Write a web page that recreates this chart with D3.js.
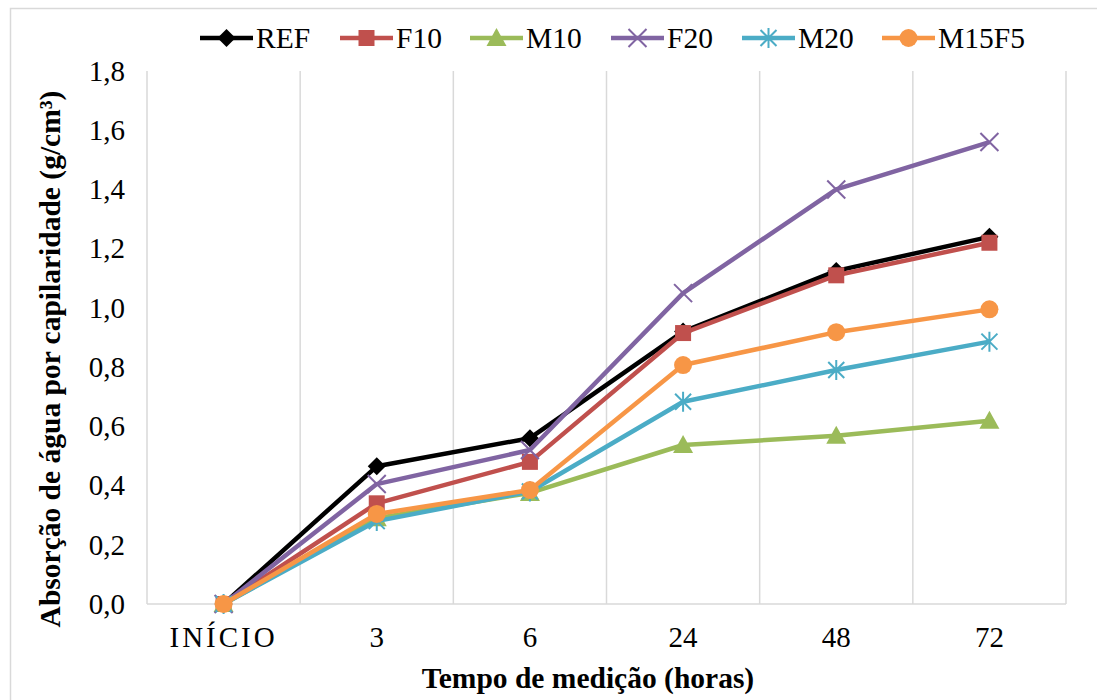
<!DOCTYPE html>
<html>
<head>
<meta charset="utf-8">
<script src="https://cdn.jsdelivr.net/npm/d3@7"></script>
<style>
  html, body { margin: 0; padding: 0; background: #fff; }
  svg { display: block; }
  text { font-family: "Liberation Serif", "Times New Roman", serif; fill: #000; }
</style>
</head>
<body>
<svg id="chart" width="1097" height="700"></svg>
<script>
// Measurement times (categories on the x axis)
const categories = ["INÍCIO", "3", "6", "24", "48", "72"];

// Capillary water absorption (g/cm³) per mix
const seriesNames = ["REF", "F10", "M10", "F20", "M20", "M15F5"];
const REF   = [0, 0.465, 0.56, 0.92, 1.125, 1.24];
const F10   = [0, 0.34, 0.48, 0.915, 1.11, 1.22];
const M10   = [0, 0.29, 0.375, 0.537, 0.568, 0.619];
const F20   = [0, 0.405, 0.52, 1.05, 1.40, 1.56];
const M20   = [0, 0.28, 0.38, 0.683, 0.79, 0.886];
const M15F5 = [0, 0.304, 0.385, 0.807, 0.918, 0.995];

const yTicks = [0, 0.2, 0.4, 0.6, 0.8, 1.0, 1.2, 1.4, 1.6, 1.8];

const seriesValues = [REF, F10, M10, F20, M20, M15F5];
const colors = ["#000000", "#C0504D", "#9BBB59", "#8064A2", "#4BACC6", "#F79646"];
const markers = ["diamond", "square", "triangle", "cross", "asterisk", "circle"];

const svg = d3.select("#chart");

// Outer chart frame
svg.append("rect")
  .attr("x", 10.5).attr("y", 8.5)
  .attr("width", 1200).attr("height", 800)
  .attr("fill", "none").attr("stroke", "#d9d9d9").attr("stroke-width", 1.5);

const plot = { left: 147, right: 1066, top: 71, bottom: 604 };

const x = d3.scaleBand().domain(categories).range([plot.left, plot.right]).padding(0);
const y = d3.scaleLinear().domain([0, 1.8]).range([plot.bottom, plot.top]);

// Vertical gridlines at category boundaries
const bounds = categories.map(c => x(c)).concat([plot.right]);
svg.append("g").selectAll("line").data(bounds).join("line")
  .attr("x1", d => d).attr("x2", d => d)
  .attr("y1", plot.top).attr("y2", plot.bottom)
  .attr("stroke", "#d9d9d9").attr("stroke-width", 1.5);

// Bottom axis line
svg.append("line")
  .attr("x1", plot.left).attr("x2", plot.right)
  .attr("y1", plot.bottom).attr("y2", plot.bottom)
  .attr("stroke", "#d9d9d9").attr("stroke-width", 1.5);

// Y axis labels
const fmt = d => d3.format(".1f")(d).replace(".", ",");
const yAxis = d3.axisLeft(y).tickValues(yTicks).tickFormat(fmt).tickSize(0).tickPadding(22);
const gy = svg.append("g").attr("transform", `translate(${plot.left},0)`).call(yAxis);
gy.select(".domain").remove();
gy.selectAll("text").style("font-family", '"Liberation Serif", "Times New Roman", serif')
  .style("font-size", "29px").attr("fill", "#000");

// X axis labels
const xAxis = d3.axisBottom(x).tickSize(0).tickPadding(22);
const gx = svg.append("g").attr("transform", `translate(0,${plot.bottom})`).call(xAxis);
gx.select(".domain").remove();
gx.selectAll("text").style("font-family", '"Liberation Serif", "Times New Roman", serif')
  .style("font-size", "29px").attr("fill", "#000")
  .attr("letter-spacing", d => d === "INÍCIO" ? "3px" : null);

// Axis titles
svg.append("text")
  .attr("x", 588).attr("y", 688)
  .attr("text-anchor", "middle")
  .attr("font-weight", "bold").attr("font-size", 29.5)
  .text("Tempo de medição (horas)");

svg.append("text")
  .attr("transform", "translate(60,359) rotate(-90)")
  .attr("text-anchor", "middle")
  .attr("font-weight", "bold").attr("font-size", 29.5)
  .text("Absorção de água por capilaridade (g/cm³)");

// Marker drawing
function drawMarker(g, type, color) {
  switch (type) {
    case "diamond":
      g.append("path").attr("d", "M0,-9L9,0L0,9L-9,0Z").attr("fill", color);
      break;
    case "square":
      g.append("rect").attr("x", -8).attr("y", -8).attr("width", 16).attr("height", 16).attr("fill", color);
      break;
    case "triangle":
      g.append("path").attr("d", "M0,-10L10,8L-10,8Z").attr("fill", color);
      break;
    case "cross":
      g.append("path").attr("d", "M-9,-9L9,9M-9,9L9,-9").attr("stroke", color).attr("stroke-width", 2).attr("fill", "none");
      break;
    case "asterisk":
      g.append("path").attr("d", "M-8,-8L8,8M-8,8L8,-8M0,-10L0,10").attr("stroke", color).attr("stroke-width", 2).attr("fill", "none");
      break;
    case "circle":
      g.append("circle").attr("r", 9).attr("fill", color);
      break;
  }
}

const line = d3.line()
  .x((d, i) => x(categories[i]) + x.bandwidth() / 2)
  .y(d => y(d));

// Series lines and markers
seriesValues.forEach((vals, s) => {
  const g = svg.append("g");
  g.append("path").datum(vals)
    .attr("d", line)
    .attr("fill", "none")
    .attr("stroke", colors[s])
    .attr("stroke-width", 4.5)
    .attr("stroke-linejoin", "round");
  vals.forEach((v, i) => {
    const m = g.append("g").attr("transform",
      `translate(${x(categories[i]) + x.bandwidth() / 2},${y(v)})`);
    drawMarker(m, markers[s], colors[s]);
  });
});

// Legend
const legendX = [200, 340, 470, 611, 742, 882];
const legendY = 38;
seriesNames.forEach((name, s) => {
  const g = svg.append("g").attr("transform", `translate(${legendX[s]},${legendY})`);
  g.append("line").attr("x1", 0).attr("x2", 53).attr("y1", 0).attr("y2", 0)
    .attr("stroke", colors[s]).attr("stroke-width", 4.5);
  drawMarker(g.append("g").attr("transform", "translate(26.5,0)"), markers[s], colors[s]);
  g.append("text").attr("x", 56).attr("y", 10).attr("font-size", 29.5).text(name);
});
</script>
</body>
</html>
